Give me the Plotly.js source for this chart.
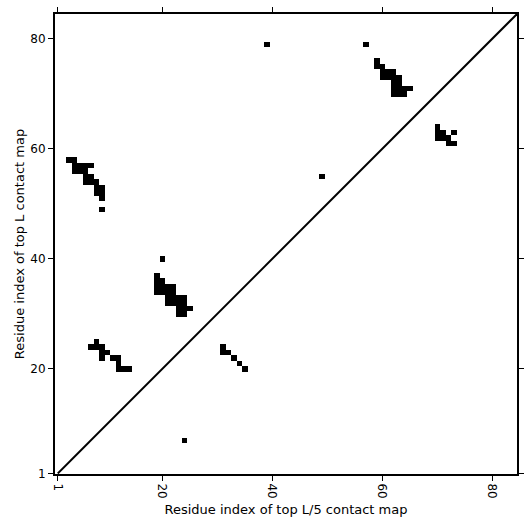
<!DOCTYPE html>
<html>
<head>
<meta charset="utf-8">
<script src="https://cdn.plot.ly/plotly-3.0.1.min.js"></script>
<style>html,body{margin:0;padding:0;background:#fff;}#chart{width:531px;height:531px;}</style>
</head>
<body>
<div id="chart"></div>
<script>
// Top L contacts (residue i on x, residue j on y)
const topLX = [
  3,4, 4,5,6,7, 4,5,6, 6,7, 6,7,8, 8,9, 8,9, 9, 9,
  20, 19, 19,20, 19,20,21,22, 19,20,21,22, 21,22,23,24, 21,22,23,24, 23,24,25, 23,24,
  8, 7,8,9, 9,10, 9,11,12, 12, 12,13,14,
  31, 31,32, 33, 34, 35,
  59, 59,60, 60,61,62, 60,61,62,63, 62,63, 62,63,64,65, 62,63,64,
  70, 70,71,73, 70,71,72, 72,73,
  39, 57, 49
];
const topLY = [
  58,58, 57,57,57,57, 56,56,56, 55,55, 54,54,54, 53,53, 52,52, 51, 49,
  40, 37, 36,36, 35,35,35,35, 34,34,34,34, 33,33,33,33, 32,32,32,32, 31,31,31, 30,30,
  25, 24,24,24, 23,23, 22,22,22, 21, 20,20,20,
  24, 23,23, 22, 21, 20,
  76, 75,75, 74,74,74, 73,73,73,73, 72,72, 71,71,71,71, 70,70,70,
  64, 63,63,63, 62,62,62, 61,61,
  79, 79, 55
];
// Top L/5 contacts
const topL5X = [24];
const topL5Y = [7];
const seqLength = 84;
const diagX = [1, 84.5];
const diagY = [1, 84.5];
const tickVals = [1, 20, 40, 60, 80];

const idx = [];
for (let i = 1; i <= seqLength; i++) idx.push(i);
const z = idx.map(() => idx.map(() => null));
function put(xs, ys) { xs.forEach((x, k) => { z[ys[k] - 1][x - 1] = 1; }); }
put(topLX, topLY);
put(topL5X, topL5Y);

const data = [
  {type: 'heatmap', x: idx, y: idx, z: z, colorscale: [[0, '#000'], [1, '#000']],
   showscale: false, zmin: 0, zmax: 1, hoverinfo: 'skip'},
  {type: 'scatter', mode: 'lines', x: diagX, y: diagY,
   line: {color: '#000', width: 2}, hoverinfo: 'skip'}
];
const axisCommon = {
  showgrid: false, zeroline: false, showline: true, linecolor: '#000', linewidth: 2,
  mirror: 'allticks', ticks: 'outside', ticklen: 5, tickwidth: 1, tickcolor: '#000',
  tickvals: tickVals, ticktext: tickVals.map(String),
  tickfont: {family: 'DejaVu Sans', size: 12, color: '#000'}
};
const layout = {
  width: 531, height: 531,
  margin: {l: 55, r: 14, t: 14, b: 57},
  paper_bgcolor: '#fff', plot_bgcolor: '#fff', showlegend: false,
  xaxis: Object.assign({}, axisCommon, {range: [0.5, 84.5], tickangle: 90,
    title: {text: 'Residue index of top L/5 contact map', font: {family: 'DejaVu Sans', size: 13, color: '#000'}, standoff: 7}}),
  yaxis: Object.assign({}, axisCommon, {range: [0.9, 84.5],
    title: {text: 'Residue index of top L contact map', font: {family: 'DejaVu Sans', size: 13, color: '#000'}, standoff: 3}})
};
Plotly.newPlot('chart', data, layout, {staticPlot: true});
</script>
</body>
</html>
